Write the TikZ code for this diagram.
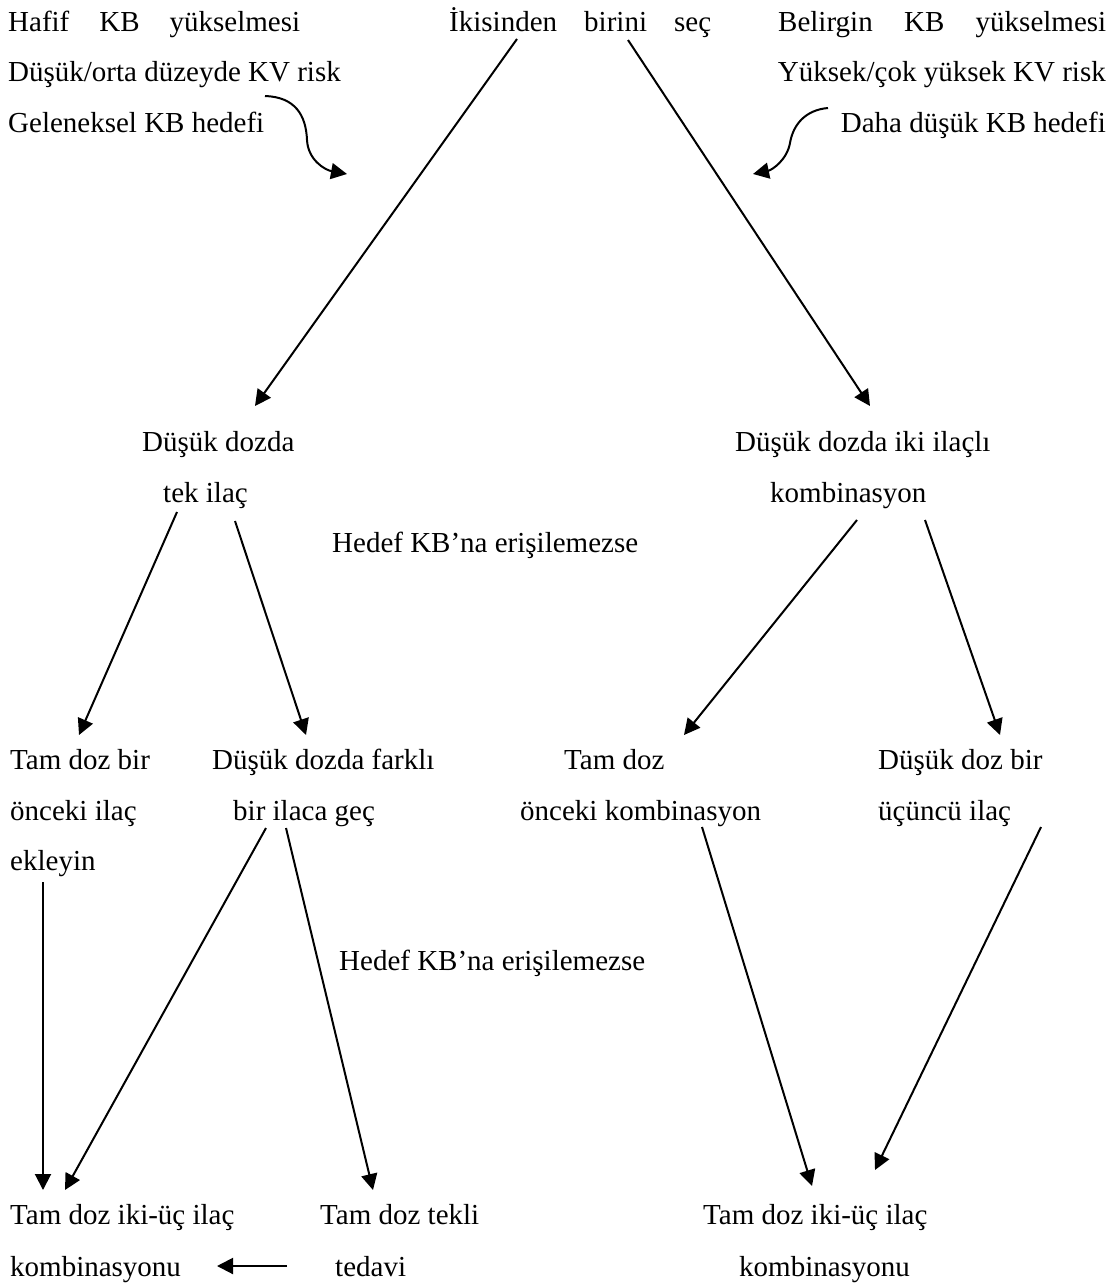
\documentclass[tikz,border=0pt]{standalone}
\usepackage{fontspec}
\setmainfont{Liberation Serif}
\usetikzlibrary{arrows.meta,calc}
\begin{document}
\begin{tikzpicture}[x=1pt,y=-1pt,
  txt/.style={inner sep=0pt,anchor=base west,font=\fontsize{29pt}{35pt}\selectfont},
  txtr/.style={txt,anchor=base east},
  arr/.style={line width=2pt,-{Triangle[length=16pt,width=16pt]}}]
\useasboundingbox[fill=white] (0,0) rectangle (1117,1284);
% top row
\node[txt] (hafif) at (8,32) {\makebox[292pt][l]{Hafif\hfill KB\hfill yükselmesi}};
\node[txt] (iki) at (449,32) {\makebox[262pt][l]{İkisinden\hfill birini\hfill seç}};
\node[txt] (bel) at (778,32) {\makebox[328pt][l]{Belirgin\hfill KB\hfill yükselmesi}};
\node[txt] (dus) at (8,82) {Düşük/orta düzeyde KV risk};
\node[txt] (gel) at (8,133) {Geleneksel KB hedefi};
\node[txtr] (yuk) at (1106,82) {Yüksek/çok yüksek KV risk};
\node[txtr] (daha) at (1106,133) {Daha düşük KB hedefi};
% second level
\node[txt] (tek1) at (142,451) {Düşük dozda};
\node[txt] (tek2) at (163,502) {tek ilaç};
\node[txt] (kom1) at (735,451) {Düşük dozda iki ilaçlı};
\node[txt] (kom2) at (770,502) {kombinasyon};
\node[txt] (hedefA) at (332,552) {Hedef KB’na erişilemezse};
% third level
\node[txt] (tam1) at (10,769) {Tam doz bir};
\node[txt] (tam2) at (10,820) {önceki ilaç};
\node[txt] (tam3) at (10,870) {ekleyin};
\node[txt] (far1) at (212,769) {Düşük dozda farklı};
\node[txt] (far2) at (233,820) {bir ilaca geç};
\node[txt] (onc1) at (564,769) {Tam doz};
\node[txt] (onc2) at (520,820) {önceki kombinasyon};
\node[txt] (uc1) at (878,769) {Düşük doz bir};
\node[txt] (uc2) at (878,820) {üçüncü ilaç};
\node[txt] (hedefB) at (339,970) {Hedef KB’na erişilemezse};
% bottom level
\node[txt] (comb1) at (10,1224) {Tam doz iki-üç ilaç};
\node[txt] (comb2) at (10,1276) {kombinasyonu};
\node[txt] (tekli1) at (320,1224) {Tam doz tekli};
\node[txt] (tekli2) at (335,1276) {tedavi};
\node[txt] (rc1) at (703,1224) {Tam doz iki-üç ilaç};
\node[txt] (rc2) at (739,1276) {kombinasyonu};
% free ends of curved arrows
\coordinate (ltip) at (347,174);
\coordinate (rtip) at (753,174);
% curved arrows
\draw[arr] ($(dus.base west)+(257,14)$) .. controls ($(dus.base west)+(287,15)$) and ($(dus.base west)+(298,33)$) .. ($(dus.base west)+(299,58)$) .. controls ($(dus.base west)+(300,78)$) and ($(dus.base west)+(317,88)$) .. (ltip);
\draw[arr] ($(daha.base east)+(-278,-25)$) .. controls ($(daha.base east)+(-301,-23)$) and ($(daha.base east)+(-313,-8)$) .. ($(daha.base east)+(-316,10)$) .. controls ($(daha.base east)+(-319,27)$) and ($(daha.base east)+(-334,37)$) .. (rtip);
% straight arrows
\draw[arr] ($(iki.base west)+(68,7)$) -- ($(tek1.base west)+(113,-45)$);
\draw[arr] ($(iki.base west)+(179,8)$) -- ($(kom1.base west)+(135,-45)$);
\draw[arr] ($(tek2.base west)+(14,10)$) -- ($(tam1.base west)+(69,-34)$);
\draw[arr] ($(tek2.base west)+(72,19)$) -- ($(far1.base west)+(94,-34)$);
\draw[arr] ($(kom2.base west)+(87,18)$) -- ($(onc1.base west)+(120,-34)$);
\draw[arr] ($(kom2.base west)+(155,18)$) -- ($(uc1.base west)+(122,-34)$);
\draw[arr] ($(tam3.base west)+(33,12)$) -- ($(comb1.base west)+(33,-34)$);
\draw[arr] ($(far2.base west)+(33,8)$) -- ($(comb1.base west)+(55,-34)$);
\draw[arr] ($(far2.base west)+(53,8)$) -- ($(tekli1.base west)+(53,-34)$);
\draw[arr] ($(tekli2.base west)+(-48,-10)$) -- ($(comb2.base west)+(207,-10)$);
\draw[arr] ($(onc2.base west)+(182,7)$) -- ($(rc1.base west)+(109,-38)$);
\draw[arr] ($(uc2.base west)+(163,7)$) -- ($(rc1.base west)+(172,-54)$);
\end{tikzpicture}
\end{document}
